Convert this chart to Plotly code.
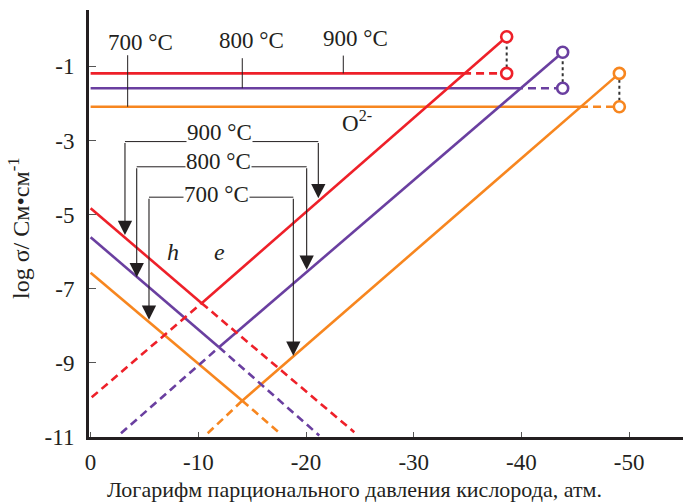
import plotly.graph_objects as go

# ---------------- data ----------------
temps = ["700 °C", "800 °C", "900 °C"]
colors = ["#F7861F", "#6A3FA0", "#EE2029"]

# ionic (O2-) conductivity plateau, log sigma
ionic_level = [-2.09, -1.59, -1.19]
ionic_solid_end = [-45.44, -39.40, -34.58]

# end points (log pO2) of the measured range and total log sigma there
end_logpo2 = [-49.09, -43.83, -38.63]
end_total = [-1.19, -0.62, -0.20]

# hole (h) branch: value at log pO2 = 0
h_start_x = [0.0, 0.0, 0.0]
h_start_y = [-6.57, -5.61, -4.83]

# crossing of h and e branches
vertex_x = [-14.08, -11.92, -10.31]
vertex_y = [-10.02, -8.58, -7.39]

# extrapolated h branch (dashed) end
h_end_x = [-17.58, -21.23, -24.48]
h_end_y = [-10.90, -10.96, -10.87]

# extrapolated e branch (dashed) start
e_start_x = [-10.87, -2.82, -0.10]
e_start_y = [-10.90, -10.90, -9.93]

# bracket arrows: bracket level, left/right x, arrow tips
br_y = [-4.53, -3.71, -3.03]
br_left_x = [-5.42, -4.28, -3.19]
br_right_x = [-18.82, -20.06, -21.14]
tip_left_y = [-7.84, -6.69, -5.55]
tip_right_y = [-8.81, -6.49, -4.56]

x_tick_vals = [0, -10, -20, -30, -40, -50]
x_tick_labels = ["0", "-10", "-20", "-30", "-40", "-50"]
y_tick_vals = [-1, -3, -5, -7, -9, -11]
y_tick_labels = ["-1", "-3", "-5", "-7", "-9", "-11"]

FONT = "Liberation Serif"
INK = "#231F20"
LW = 2.6
DASH = "8px,5px"

fig = go.Figure()

for i in range(3):
    c = colors[i]
    # ionic plateau
    fig.add_trace(go.Scatter(x=[0, ionic_solid_end[i]], y=[ionic_level[i]] * 2,
                             mode="lines", line=dict(color=c, width=LW)))
    fig.add_trace(go.Scatter(x=[ionic_solid_end[i], end_logpo2[i]], y=[ionic_level[i]] * 2,
                             mode="lines", line=dict(color=c, width=LW, dash=DASH)))
    # h branch
    fig.add_trace(go.Scatter(x=[h_start_x[i], vertex_x[i]], y=[h_start_y[i], vertex_y[i]],
                             mode="lines", line=dict(color=c, width=LW)))
    fig.add_trace(go.Scatter(x=[vertex_x[i], h_end_x[i]], y=[vertex_y[i], h_end_y[i]],
                             mode="lines", line=dict(color=c, width=LW, dash=DASH)))
    # e branch
    fig.add_trace(go.Scatter(x=[e_start_x[i], vertex_x[i]], y=[e_start_y[i], vertex_y[i]],
                             mode="lines", line=dict(color=c, width=LW, dash=DASH)))
    fig.add_trace(go.Scatter(x=[vertex_x[i], end_logpo2[i]], y=[vertex_y[i], end_total[i]],
                             mode="lines", line=dict(color=c, width=LW)))

for i in range(3):
    c = colors[i]
    fig.add_trace(go.Scatter(x=[end_logpo2[i]] * 2, y=[ionic_level[i], end_total[i]],
                             mode="lines", line=dict(color="#333333", width=2, dash="dot")))
    fig.add_trace(go.Scatter(x=[end_logpo2[i]] * 2, y=[ionic_level[i], end_total[i]],
                             mode="markers",
                             marker=dict(symbol="circle", size=11, color="white",
                                         line=dict(color=c, width=2.6))))

annotations = []
shapes = []

# bracket labels with arrows
label_y = [-4.47, -3.57, -2.79]
label_x = [-11.71, -11.83, -12.01]
for i in range(3):
    shapes.append(dict(type="line", xref="x", yref="y", x0=br_left_x[i], x1=br_right_x[i],
                       y0=br_y[i], y1=br_y[i], line=dict(color=INK, width=1)))
    for bx, ty in ((br_left_x[i], tip_left_y[i]), (br_right_x[i], tip_right_y[i])):
        annotations.append(dict(x=bx, y=ty, ax=bx, ay=br_y[i], xref="x", yref="y",
                                axref="x", ayref="y", text="", showarrow=True,
                                arrowhead=2, arrowsize=2.6, arrowwidth=1.1,
                                arrowcolor=INK, standoff=0, startstandoff=0))
    annotations.append(dict(x=label_x[i], y=label_y[i], xref="x", yref="y", text=temps[i],
                            showarrow=False, bgcolor="white", borderpad=0,
                            font=dict(family=FONT, size=23, color=INK)))

# top labels with leader lines
top_label_x = [-4.59, -14.98, -24.55]
top_label_y = [-0.37, -0.29, -0.26]
leader_x = [-3.44, -14.08, -23.46]
leader_top = [-0.70, -0.78, -0.71]
for i in range(3):
    shapes.append(dict(type="line", xref="x", yref="y", x0=leader_x[i], x1=leader_x[i],
                       y0=leader_top[i], y1=ionic_level[i], line=dict(color=INK, width=1)))
    annotations.append(dict(x=top_label_x[i], y=top_label_y[i], xref="x", yref="y",
                            text=temps[i], showarrow=False,
                            font=dict(family=FONT, size=23, color=INK)))

annotations.append(dict(x=-24.73, y=-2.50, xref="x", yref="y", text="O<sup>2-</sup>",
                        showarrow=False, font=dict(family=FONT, size=23, color=INK)))
annotations.append(dict(x=-7.68, y=-6.0, xref="x", yref="y", text="<i>h</i>",
                        showarrow=False, font=dict(family=FONT, size=24, color=INK)))
annotations.append(dict(x=-12.01, y=-6.0, xref="x", yref="y", text="<i>e</i>",
                        showarrow=False, font=dict(family=FONT, size=24, color=INK)))

# axis titles
annotations.append(dict(x=(354 - 89) / 594, y=(437 - 490) / 427, xref="paper", yref="paper",
                        xanchor="center", yanchor="middle",
                        text="Логарифм парционального давления кислорода, атм.",
                        showarrow=False, font=dict(family=FONT, size=22, color=INK)))
annotations.append(dict(x=(19 - 89) / 594, y=(437 - 228) / 427, xref="paper", yref="paper",
                        xanchor="center", yanchor="middle",
                        text="log σ/ См•см<sup>-1</sup>", textangle=-90,
                        showarrow=False, font=dict(family=FONT, size=24, color=INK)))

fig.update_layout(
    width=683, height=504,
    margin=dict(l=89, r=0, t=10, b=67),
    plot_bgcolor="white", paper_bgcolor="white",
    showlegend=False,
    shapes=shapes, annotations=annotations,
    xaxis=dict(range=[0.15, -55.0], tickvals=x_tick_vals, ticktext=x_tick_labels,
               showgrid=False, zeroline=False, showline=True, linewidth=3, linecolor=INK,
               ticks="inside", ticklen=5, tickwidth=1, tickcolor="#555555",
               ticklabelstandoff=2,
               tickfont=dict(family=FONT, size=23, color=INK)),
    yaxis=dict(range=[-11.0, 0.52], tickvals=y_tick_vals, ticktext=y_tick_labels,
               showgrid=False, zeroline=False, showline=True, linewidth=3, linecolor=INK,
               ticks="inside", ticklen=7, tickwidth=1, tickcolor="#555555",
               ticklabelstandoff=7,
               tickfont=dict(family=FONT, size=23, color=INK)),
    xaxis2=dict(overlaying="x", anchor="y", side="bottom", range=[0.15, -55.0],
                tickvals=x_tick_vals, showticklabels=False, showgrid=False, zeroline=False,
                showline=False, ticks="outside", ticklen=5, tickwidth=1, tickcolor="#555555"),
    yaxis2=dict(overlaying="y", anchor="x", side="left", range=[-11.0, 0.52],
                tickvals=y_tick_vals, showticklabels=False, showgrid=False, zeroline=False,
                showline=False, ticks="outside", ticklen=4, tickwidth=1, tickcolor="#555555"),
)

fig.write_html("out.html", config={"displayModeBar": False},
               post_script="document.body.style.margin='0';document.body.style.padding='0';")
